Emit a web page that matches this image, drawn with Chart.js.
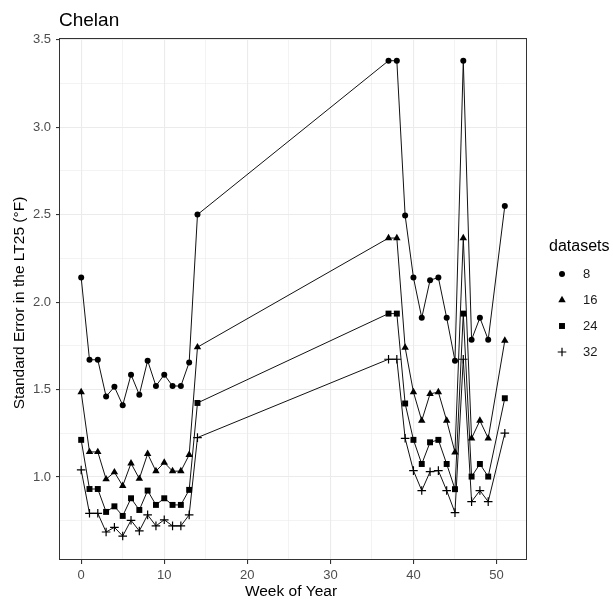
<!DOCTYPE html>
<html><head><meta charset="utf-8">
<script src="https://cdn.jsdelivr.net/npm/chart.js@4/dist/chart.umd.min.js"></script>
<style>html,body{margin:0;padding:0;background:#fff}#wrap{width:613px;height:601px}</style>
</head><body><div id="wrap"><canvas id="c" width="613" height="601"></canvas></div>
<script>
const chartTitle = "Chelan";
const xAxisTitle = "Week of Year";
const yAxisTitle = "Standard Error in the LT25 (°F)";
const legendTitle = "datasets";
const seriesNames = ["8", "16", "24", "32"];
const pointStyles = ["circle", "triangle", "rect", "cross"];
const weeks = [0,1,2,3,4,5,6,7,8,9,10,11,12,13,14,37,38,39,40,41,42,43,44,45,46,47,48,49,51];
const se8  = [2.14,1.67,1.67,1.46,1.515,1.41,1.585,1.47,1.665,1.52,1.585,1.52,1.52,1.655,2.50,3.38,3.38,2.495,2.14,1.91,2.125,2.14,1.91,1.665,3.38,1.785,1.91,1.785,2.55];
const se16 = [1.485,1.143,1.143,0.987,1.027,0.949,1.078,0.99,1.132,1.033,1.082,1.033,1.033,1.126,1.742,2.366,2.366,1.74,1.485,1.322,1.475,1.485,1.322,1.141,2.366,1.221,1.322,1.221,1.78];
const se24 = [1.212,0.931,0.931,0.80,0.832,0.777,0.878,0.811,0.922,0.84,0.878,0.84,0.84,0.926,1.423,1.934,1.934,1.42,1.212,1.074,1.198,1.212,1.074,0.93,1.934,1.002,1.074,1.002,1.45];
const se32 = [1.04,0.792,0.792,0.685,0.712,0.662,0.752,0.691,0.783,0.72,0.755,0.72,0.72,0.783,1.225,1.673,1.673,1.221,1.036,0.922,1.03,1.036,0.922,0.796,1.673,0.859,0.922,0.859,1.25];
const xTicks = [0,5,10,15,20,25,30,35,40,45,50];
const xLabels = ["0","","10","","20","","30","","40","","50"];
const yTicks = [0.75,1.0,1.25,1.5,1.75,2.0,2.25,2.5,2.75,3.0,3.25,3.5];
const yLabels = ["","1.0","","1.5","","2.0","","2.5","","3.0","","3.5"];

const allSeries = [se8, se16, se24, se32];
const radii = [3, 4.3, 4.2, 4.3];
const FONT = "'Liberation Sans', Arial, sans-serif";

const datasets = allSeries.map((vals, i) => ({
  label: seriesNames[i],
  data: weeks.map((w, j) => ({x: w, y: vals[j]})),
  borderColor: '#111',
  backgroundColor: '#000',
  borderWidth: 1,
  pointStyle: pointStyles[i],
  pointRadius: radii[i],
  pointBackgroundColor: '#000',
  pointBorderColor: '#000',
  pointBorderWidth: pointStyles[i] === 'cross' ? 1.2 : 0,
  tension: 0,
  fill: false
}));

const decor = {
  id: 'decor',
  afterDatasetsDraw(chart) {
    const ctx = chart.ctx, a = chart.chartArea;
    ctx.save();
    ctx.strokeStyle = '#333';
    ctx.lineWidth = 1;
    ctx.strokeRect(Math.round(a.left) - 0.5, Math.round(a.top) + 0.5, Math.round(a.right - a.left) + 1, Math.round(a.bottom - a.top) - 1);
    ctx.restore();
  },
  afterDraw(chart) {
    const ctx = chart.ctx, a = chart.chartArea;
    ctx.save();
    ctx.fillStyle = '#000';
    ctx.textAlign = 'left';
    ctx.textBaseline = 'alphabetic';
    ctx.font = "19px " + FONT;
    ctx.fillText(chartTitle, 59, 26);
    ctx.font = "15.5px " + FONT;
    ctx.textAlign = 'center';
    ctx.fillText(xAxisTitle, (a.left + a.right) / 2 - 2, 596);
    ctx.save();
    ctx.translate(24, 303);
    ctx.rotate(-Math.PI / 2);
    ctx.fillText(yAxisTitle, 0, 0);
    ctx.restore();
    // legend
    ctx.textAlign = 'left';
    ctx.font = "16px " + FONT;
    ctx.fillText(legendTitle, 549, 251);
    ctx.font = "13px " + FONT;
    ctx.textBaseline = 'middle';
    const ys = [274, 300, 326, 352];
    seriesNames.forEach((n, i) => {
      ctx.fillStyle = '#000';
      ctx.strokeStyle = '#000';
      ctx.lineWidth = pointStyles[i] === 'cross' ? 1.2 : 0;
      Chart.helpers.drawPoint(ctx, {pointStyle: pointStyles[i], radius: radii[i], borderWidth: pointStyles[i] === 'cross' ? 1.2 : 0, rotation: 0}, 562, ys[i]);
      ctx.fillStyle = '#1a1a1a';
      ctx.fillText(n, 583, ys[i]);
    });
    ctx.restore();
  }
};

new Chart(document.getElementById('c'), {
  type: 'line',
  data: {datasets},
  options: {
    responsive: false,
    animation: false,
    devicePixelRatio: 1,
    layout: {padding: {left: 0, top: 38, right: 87, bottom: 0}},
    plugins: {legend: {display: false}, tooltip: {enabled: false}, title: {display: false}},
    scales: {
      x: {
        type: 'linear', min: -2.55, max: 53.55,
        afterFit(s) { s.height = 41; },
        afterBuildTicks(s) { s.ticks = xTicks.map(v => ({value: v})); },
        ticks: {
          autoSkip: false, maxRotation: 0, padding: 4,
          color: '#4d4d4d', font: {family: FONT, size: 13},
          callback: (v) => { const k = xTicks.indexOf(v); return k >= 0 ? xLabels[k] : ''; }
        },
        grid: {
          color: '#ebebeb',
          lineWidth: (c) => (c.tick && xLabels[xTicks.indexOf(c.tick.value)] !== '') ? 1.1 : 0.6,
          tickColor: (c) => (c.tick && xLabels[xTicks.indexOf(c.tick.value)] !== '') ? '#333' : 'rgba(0,0,0,0)',
          tickLength: 4, drawTicks: true
        },
        border: {display: false}
      },
      y: {
        type: 'linear', min: 0.525, max: 3.51,
        afterFit(s) { s.width = 60; },
        afterBuildTicks(s) { s.ticks = yTicks.map(v => ({value: v})); },
        ticks: {
          autoSkip: false, padding: 5,
          color: '#4d4d4d', font: {family: FONT, size: 13},
          callback: (v) => { const k = yTicks.indexOf(v); return k >= 0 ? yLabels[k] : ''; }
        },
        grid: {
          color: '#ebebeb',
          lineWidth: (c) => (c.tick && yLabels[yTicks.indexOf(c.tick.value)] !== '') ? 1.1 : 0.6,
          tickColor: (c) => (c.tick && yLabels[yTicks.indexOf(c.tick.value)] !== '') ? '#333' : 'rgba(0,0,0,0)',
          tickLength: 4, drawTicks: true
        },
        border: {display: false}
      }
    }
  },
  plugins: [decor]
});
</script>
</body></html>
